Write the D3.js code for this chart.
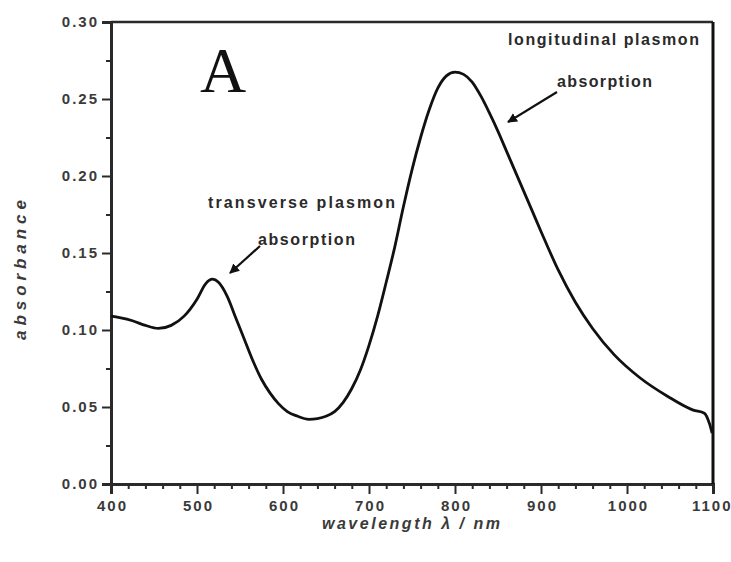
<!DOCTYPE html>
<html>
<head>
<meta charset="utf-8">
<script src="https://cdn.jsdelivr.net/npm/d3@7"></script>
<style>
  html, body { margin: 0; padding: 0; background: #fff; }
  svg { display: block; }
</style>
</head>
<body>
<svg id="chart" width="731" height="562"></svg>
<script>
// Absorption spectrum: wavelength (nm) and absorbance
const wavelength = [400, 410, 425, 440, 455, 470, 485, 500, 510, 518, 525, 535, 545, 555, 565, 575, 585, 595, 605, 617, 630, 640, 650, 660, 670, 680, 690, 700, 710, 720, 730, 740, 750, 760, 770, 780, 790, 800, 810, 820, 830, 840, 850, 860, 870, 880, 890, 900, 920, 940, 960, 985, 1015, 1047, 1077, 1090, 1096, 1099];
const absorbance = [0.109, 0.108, 0.106, 0.103, 0.101, 0.103, 0.109, 0.120, 0.130, 0.133, 0.131, 0.122, 0.108, 0.094, 0.080, 0.068, 0.059, 0.052, 0.047, 0.044, 0.042, 0.0425, 0.044, 0.047, 0.053, 0.062, 0.074, 0.090, 0.109, 0.131, 0.154, 0.180, 0.204, 0.225, 0.243, 0.257, 0.265, 0.2675, 0.266, 0.261, 0.252, 0.241, 0.229, 0.216, 0.203, 0.190, 0.177, 0.164, 0.139, 0.118, 0.101, 0.084, 0.069, 0.057, 0.048, 0.046, 0.039, 0.033];

const xTicks = [400, 500, 600, 700, 800, 900, 1000, 1100];
const yTicks = [0.00, 0.05, 0.10, 0.15, 0.20, 0.25, 0.30];

const svg = d3.select("#chart");
const plotLeft = 111, plotRight = 713, plotTop = 22, plotBottom = 484;

const x = d3.scaleLinear().domain([400, 1100]).range([plotLeft, plotRight]);
const y = d3.scaleLinear().domain([0, 0.30]).range([plotBottom, plotTop]);

const sans = "'Liberation Sans', Arial, sans-serif";
const frameColor = "#2a2a2a";
const tickSpacing = 2;

// minor ticks
const xMinor = d3.range(400, 1101, 20).filter(v => v % 100 !== 0);
const yMinor = d3.range(0.025, 0.30, 0.05);

svg.append("g").attr("class", "xaxis").attr("transform", `translate(0,${plotBottom})`)
  .call(d3.axisBottom(x).tickValues(xTicks).tickFormat(d3.format("d")).tickSize(10).tickPadding(6));
svg.append("g").attr("transform", `translate(0,${plotBottom})`)
  .call(d3.axisBottom(x).tickValues(xMinor).tickFormat("").tickSize(5))
  .call(g => g.select(".domain").remove());

svg.append("g").attr("class", "yaxis").attr("transform", `translate(${plotLeft},0)`)
  .call(d3.axisLeft(y).tickValues(yTicks).tickFormat(d3.format(".2f")).tickSize(9).tickPadding(5));
svg.append("g").attr("transform", `translate(${plotLeft},0)`)
  .call(d3.axisLeft(y).tickValues(yMinor).tickFormat("").tickSize(5))
  .call(g => g.select(".domain").remove());

svg.selectAll(".tick line").attr("stroke", frameColor).attr("stroke-width", 2);
svg.selectAll(".domain").attr("stroke", frameColor).attr("stroke-width", 3);
svg.selectAll(".tick text")
  .style("font", `bold 15px ${sans}`)
  .style("letter-spacing", `${tickSpacing}px`)
  .attr("fill", "#3a3a3a");
// letter-spacing leaves a trailing gap; shift labels to keep them aligned
svg.selectAll(".xaxis .tick text").attr("dx", tickSpacing / 2);
svg.selectAll(".yaxis .tick text").attr("dx", tickSpacing);
// keep the last wavelength label inside the page
svg.selectAll(".xaxis .tick text").filter(d => d === 1100)
  .attr("text-anchor", "end").attr("dx", 731 - x(1100) + tickSpacing - 1);

// top and right frame
svg.append("line").attr("x1", plotLeft).attr("x2", plotRight).attr("y1", plotTop).attr("y2", plotTop)
  .attr("stroke", frameColor).attr("stroke-width", 2.5);
svg.append("line").attr("x1", plotRight).attr("x2", plotRight).attr("y1", plotTop).attr("y2", plotBottom)
  .attr("stroke", "#111").attr("stroke-width", 3);

// spectrum
const line = d3.line()
  .x((d, i) => x(wavelength[i]))
  .y((d, i) => y(absorbance[i]))
  .curve(d3.curveMonotoneX);
svg.append("path")
  .datum(absorbance)
  .attr("d", line)
  .attr("fill", "none")
  .attr("stroke", "#111")
  .attr("stroke-width", 2.8)
  .attr("stroke-linejoin", "round");

// axis titles
svg.append("text")
  .attr("x", 411).attr("y", 529)
  .attr("text-anchor", "middle")
  .attr("textLength", 178).attr("lengthAdjust", "spacing")
  .style("font", `italic bold 16px ${sans}`)
  .attr("fill", "#3a3a3a")
  .text("wavelength λ / nm");
svg.append("text")
  .attr("transform", "translate(26,270) rotate(-90)")
  .attr("text-anchor", "middle")
  .attr("textLength", 140).attr("lengthAdjust", "spacing")
  .style("font", `italic bold 17px ${sans}`)
  .attr("fill", "#3a3a3a")
  .text("absorbance");

// panel letter
svg.append("text")
  .attr("x", 223).attr("y", 92)
  .attr("text-anchor", "middle")
  .style("font", "64px 'Liberation Serif', 'Times New Roman', serif")
  .attr("fill", "#111")
  .text("A");

// annotations
const annotations = [
  { text: "longitudinal plasmon", x: 603.5, y: 45, len: 191 },
  { text: "absorption", x: 604.5, y: 87, len: 95 },
  { text: "transverse plasmon", x: 301.5, y: 208, len: 187 },
  { text: "absorption", x: 306.5, y: 245, len: 97 }
];
svg.selectAll("text.ann").data(annotations).join("text")
  .attr("class", "ann")
  .attr("x", d => d.x).attr("y", d => d.y)
  .attr("text-anchor", "middle")
  .attr("textLength", d => d.len).attr("lengthAdjust", "spacing")
  .style("font", `bold 16px ${sans}`)
  .attr("fill", "#2a2a2a")
  .text(d => d.text);

svg.append("defs").append("marker")
  .attr("id", "head").attr("viewBox", "0 0 10 10")
  .attr("refX", 9).attr("refY", 5)
  .attr("markerWidth", 4.5).attr("markerHeight", 4.5)
  .attr("orient", "auto")
  .append("path").attr("d", "M0,0 L10,5 L0,10 Z").attr("fill", "#111");

const arrows = [
  { x1: 557, y1: 92, x2: 508, y2: 122 },
  { x1: 260, y1: 246, x2: 230, y2: 273 }
];
svg.selectAll("line.arrow").data(arrows).join("line")
  .attr("class", "arrow")
  .attr("x1", d => d.x1).attr("y1", d => d.y1)
  .attr("x2", d => d.x2).attr("y2", d => d.y2)
  .attr("stroke", "#111").attr("stroke-width", 2.2)
  .attr("marker-end", "url(#head)");
</script>
</body>
</html>
